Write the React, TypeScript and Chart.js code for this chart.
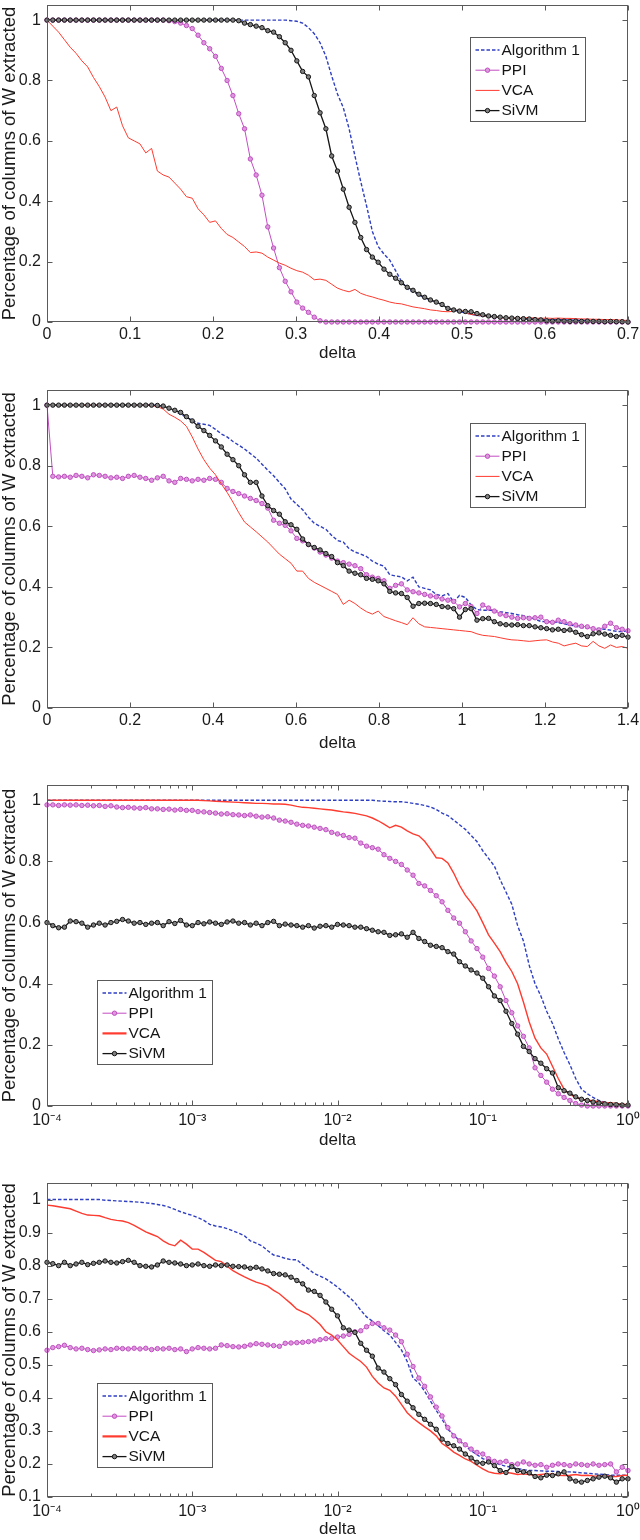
import { useEffect, useRef } from 'react';
import { Chart, registerables } from 'chart.js';

Chart.register(...registerables);

const FONT = '"Liberation Sans", Arial, Helvetica, sans-serif';
const BLUE = '#2f3fc2';
const MAGENTA = '#c24ec2';
const RED = '#ff3a2e';
const BLACK = '#151515';

// Sweep grids: 101 samples of delta per experiment (linear runs, then per-decade on the log runs).
const N = 101;
const DELTA_A = Array.from({ length: N }, (_, i) => (0.7 * i) / 100);
const DELTA_B = Array.from({ length: N }, (_, i) => (1.4 * i) / 100);
const DELTA_LOG = Array.from({ length: N }, (_, i) => Math.pow(10, -4 + (4 * i) / 100));

// Tick values / labels
const X_TICKS_A = [0, 0.1, 0.2, 0.3, 0.4, 0.5, 0.6, 0.7];
const X_LABELS_A = ['0', '0.1', '0.2', '0.3', '0.4', '0.5', '0.6', '0.7'];
const X_TICKS_B = [0, 0.2, 0.4, 0.6, 0.8, 1, 1.2, 1.4];
const X_LABELS_B = ['0', '0.2', '0.4', '0.6', '0.8', '1', '1.2', '1.4'];
const X_TICKS_LOG = [1e-4, 1e-3, 1e-2, 1e-1, 1];
const X_LABELS_LOG = ['10\u207B\u2074', '10\u207B\u00B3', '10\u207B\u00B2', '10\u207B\u00B9', '10\u2070'];
const Y_TICKS = [0, 0.2, 0.4, 0.6, 0.8, 1];
const Y_LABELS = ['0', '0.2', '0.4', '0.6', '0.8', '1'];
const Y_TICKS_4 = [0.1, 0.2, 0.3, 0.4, 0.5, 0.6, 0.7, 0.8, 0.9, 1];
const Y_LABELS_4 = ['0.1', '0.2', '0.3', '0.4', '0.5', '0.6', '0.7', '0.8', '0.9', '1'];

// ---- panel 1 (delta 0..0.7)
const P1_ALG = [
  1, 1, 1, 1, 1, 1, 1, 1, 1, 1,
  1, 1, 1, 1, 1, 1, 1, 1, 1, 1,
  1, 1, 1, 1, 1, 1, 1, 1, 1, 1,
  1, 1, 1, 1, 1, 1, 1, 1, 1, 1,
  1, 1, 0.998, 0.996, 0.99, 0.975, 0.955, 0.925, 0.88, 0.815,
  0.755, 0.71, 0.64, 0.55, 0.465, 0.385, 0.3, 0.25, 0.225, 0.205,
  0.17, 0.135, 0.11, 0.1, 0.09, 0.08, 0.073, 0.065, 0.055, 0.046,
  0.04, 0.035, 0.03, 0.026, 0.022, 0.02, 0.018, 0.016, 0.014, 0.013,
  0.012, 0.011, 0.01, 0.01, 0.01, 0.009, 0.008, 0.008, 0.008, 0.007,
  0.007, 0.006, 0.006, 0.006, 0.005, 0.005, 0.004, 0.004, 0.003, 0.002,
  0.001,
];
const P1_PPI = [
  1, 1, 1, 1, 1, 1, 1, 1, 1, 1,
  1, 1, 1, 1, 1, 1, 1, 1, 1, 1,
  1, 0.998, 0.995, 0.99, 0.982, 0.972, 0.95, 0.925, 0.905, 0.88,
  0.84, 0.8, 0.75, 0.69, 0.64, 0.54, 0.487, 0.42, 0.315, 0.245,
  0.18, 0.135, 0.1, 0.066, 0.046, 0.032, 0.016, 0.004, 0, 0,
  0, 0, 0, 0, 0, 0, 0, 0, 0, 0,
  0, 0, 0, 0, 0, 0, 0, 0, 0, 0,
  0, 0, 0, 0, 0, 0, 0, 0, 0, 0,
  0, 0, 0, 0, 0, 0, 0, 0, 0, 0,
  0, 0, 0, 0, 0, 0, 0, 0, 0, 0,
  0,
];
const P1_VCA = [
  1, 0.98, 0.96, 0.935, 0.91, 0.89, 0.865, 0.845, 0.81, 0.78,
  0.745, 0.7, 0.712, 0.65, 0.61, 0.6, 0.59, 0.56, 0.575, 0.5,
  0.487, 0.48, 0.46, 0.44, 0.415, 0.41, 0.375, 0.355, 0.33, 0.335,
  0.31, 0.29, 0.28, 0.265, 0.25, 0.23, 0.232, 0.228, 0.215, 0.205,
  0.195, 0.188, 0.178, 0.17, 0.165, 0.155, 0.14, 0.142, 0.138, 0.125,
  0.112, 0.105, 0.1, 0.108, 0.095, 0.088, 0.083, 0.077, 0.072, 0.066,
  0.062, 0.06, 0.055, 0.05, 0.047, 0.044, 0.04, 0.038, 0.035, 0.034,
  0.035, 0.042, 0.03, 0.025, 0.023, 0.02, 0.018, 0.016, 0.014, 0.013,
  0.013, 0.012, 0.013, 0.014, 0.013, 0.012, 0.013, 0.012, 0.013, 0.012,
  0.012, 0.011, 0.01, 0.01, 0.009, 0.009, 0.008, 0.008, 0.007, 0.006,
  0.005,
];
const P1_SIVM = [
  1, 1, 1, 1, 1, 1, 1, 1, 1, 1,
  1, 1, 1, 1, 1, 1, 1, 1, 1, 1,
  1, 1, 1, 1, 1, 1, 1, 1, 1, 1,
  1, 1, 1, 0.998, 0.99, 0.985, 0.98, 0.975, 0.965, 0.96,
  0.945, 0.925, 0.9, 0.865, 0.83, 0.812, 0.75, 0.693, 0.64, 0.55,
  0.5, 0.44, 0.38, 0.33, 0.28, 0.24, 0.215, 0.198, 0.175, 0.158,
  0.145, 0.13, 0.115, 0.105, 0.092, 0.082, 0.073, 0.066, 0.058, 0.045,
  0.04, 0.036, 0.035, 0.034, 0.028, 0.024, 0.02, 0.018, 0.016, 0.014,
  0.013, 0.012, 0.011, 0.01, 0.008, 0.007, 0.004, 0.003, 0.004, 0.003,
  0.002, 0.003, 0.002, 0.003, 0.002, 0.002, 0.001, 0.002, 0.001, 0.001,
  0,
];

// ---- panel 2 (delta 0..1.4)
const P2_ALG = [
  1, 1, 1, 1, 1, 1, 1, 1, 1, 1,
  1, 1, 1, 1, 1, 1, 1, 1, 1, 0.998,
  0.995, 0.99, 0.98, 0.97, 0.96, 0.95, 0.94, 0.937, 0.933, 0.92,
  0.905, 0.895, 0.88, 0.868, 0.855, 0.84, 0.825, 0.805, 0.785, 0.767,
  0.745, 0.724, 0.69, 0.672, 0.655, 0.63, 0.61, 0.6, 0.59, 0.57,
  0.553, 0.548, 0.526, 0.515, 0.508, 0.5, 0.485, 0.475, 0.468, 0.44,
  0.436, 0.433, 0.42, 0.432, 0.4, 0.395, 0.39, 0.375, 0.37, 0.378,
  0.35, 0.372, 0.365, 0.34, 0.325, 0.323, 0.323, 0.322, 0.318, 0.315,
  0.312, 0.308, 0.305, 0.3, 0.293, 0.286, 0.285, 0.285, 0.282, 0.278,
  0.274, 0.27, 0.266, 0.263, 0.263, 0.262, 0.26, 0.257, 0.253, 0.252,
  0.255,
];
const P2_PPI = [
  1, 0.765, 0.763, 0.765, 0.762, 0.768, 0.765, 0.76, 0.77, 0.768,
  0.765, 0.76, 0.762, 0.758, 0.765, 0.768, 0.762, 0.758, 0.752, 0.76,
  0.765, 0.75, 0.745, 0.758, 0.755, 0.75, 0.755, 0.752, 0.758, 0.755,
  0.745, 0.725, 0.715, 0.708, 0.7, 0.692, 0.685, 0.675, 0.66, 0.62,
  0.61, 0.603, 0.585, 0.56, 0.552, 0.54, 0.528, 0.515, 0.505, 0.495,
  0.485, 0.48, 0.475, 0.47, 0.46, 0.44, 0.432, 0.428, 0.42, 0.395,
  0.405, 0.41, 0.39, 0.384, 0.38, 0.375, 0.37, 0.367, 0.36, 0.356,
  0.352, 0.334, 0.345, 0.335, 0.312, 0.34, 0.33, 0.32, 0.31, 0.305,
  0.3, 0.296, 0.298, 0.296, 0.298, 0.3, 0.285, 0.283, 0.29, 0.285,
  0.278, 0.274, 0.27, 0.268, 0.262, 0.258, 0.27, 0.28, 0.265, 0.26,
  0.255,
];
const P2_VCA = [
  1, 1, 1, 1, 1, 1, 1, 1, 1, 1,
  1, 1, 1, 1, 1, 1, 1, 1, 1, 0.995,
  0.987, 0.97, 0.96, 0.948, 0.93, 0.895, 0.855, 0.82, 0.792, 0.77,
  0.74, 0.712, 0.68, 0.645, 0.614, 0.598, 0.582, 0.565, 0.548, 0.528,
  0.508, 0.493, 0.478, 0.452, 0.452, 0.428, 0.415, 0.405, 0.395, 0.385,
  0.375, 0.342, 0.356, 0.345, 0.33, 0.318, 0.31, 0.32, 0.302, 0.295,
  0.288, 0.282, 0.275, 0.298, 0.278, 0.268, 0.266, 0.264, 0.262, 0.26,
  0.258, 0.256, 0.254, 0.252, 0.245, 0.24, 0.238, 0.236, 0.232, 0.228,
  0.225, 0.224, 0.222, 0.22, 0.222, 0.224, 0.225, 0.218, 0.214, 0.205,
  0.21, 0.214, 0.205, 0.203, 0.22, 0.205, 0.197, 0.208, 0.2, 0.203,
  0.197,
];
const P2_SIVM = [
  1, 1, 1, 1, 1, 1, 1, 1, 1, 1,
  1, 1, 1, 1, 1, 1, 1, 1, 1, 0.999,
  0.997, 0.99, 0.983, 0.976, 0.962, 0.948, 0.93, 0.916, 0.9, 0.882,
  0.862, 0.838, 0.82, 0.8, 0.77, 0.745, 0.745, 0.7, 0.668, 0.652,
  0.64, 0.615, 0.605, 0.59, 0.558, 0.54, 0.53, 0.522, 0.51, 0.5,
  0.48, 0.47, 0.452, 0.445, 0.44, 0.428, 0.425, 0.42, 0.41, 0.385,
  0.38, 0.378, 0.365, 0.336, 0.345, 0.346, 0.345, 0.342, 0.335, 0.333,
  0.328, 0.3, 0.325, 0.328, 0.29, 0.295, 0.296, 0.285, 0.278, 0.275,
  0.274, 0.275, 0.272, 0.272, 0.268, 0.265, 0.262, 0.258, 0.26, 0.256,
  0.258, 0.25, 0.242, 0.236, 0.245, 0.248, 0.244, 0.24, 0.236, 0.24,
  0.234,
];

// ---- panel 3 (delta 1e-4..1, log)
const P3_ALG = [
  1, 1, 1, 1, 1, 1, 1, 1, 1, 1,
  1, 1, 1, 1, 1, 1, 1, 1, 1, 1,
  1, 1, 1, 1, 1, 1, 1, 1, 1, 1,
  1, 1, 1, 1, 1, 1, 1, 1, 1, 1,
  1, 1, 1, 1, 1, 1, 1, 1, 1, 1,
  1, 1, 1, 1, 1, 1, 1, 0.998, 0.997, 0.996,
  0.995, 0.995, 0.993, 0.99, 0.987, 0.983, 0.978, 0.97, 0.958, 0.95,
  0.935, 0.92, 0.905, 0.885, 0.865, 0.835, 0.81, 0.785, 0.74, 0.7,
  0.66, 0.59, 0.54, 0.46, 0.4, 0.36, 0.31, 0.27, 0.22, 0.175,
  0.135, 0.09, 0.055, 0.04, 0.028, 0.018, 0.012, 0.009, 0.006, 0.004,
  0.003,
];
const P3_PPI = [
  0.985, 0.985, 0.983, 0.985, 0.984, 0.985, 0.983, 0.984, 0.982, 0.983,
  0.98, 0.982, 0.978, 0.976, 0.977, 0.975, 0.974, 0.976, 0.972, 0.972,
  0.97, 0.971, 0.968, 0.97, 0.967, 0.967, 0.963, 0.962, 0.96, 0.958,
  0.955, 0.956, 0.953, 0.952, 0.95, 0.952, 0.948, 0.945, 0.946, 0.942,
  0.935, 0.932, 0.928, 0.922, 0.918, 0.916, 0.912, 0.908, 0.904, 0.895,
  0.89, 0.885, 0.878, 0.876, 0.86, 0.85, 0.845, 0.84, 0.822, 0.81,
  0.8, 0.79, 0.772, 0.755, 0.728, 0.72, 0.705, 0.688, 0.668, 0.64,
  0.615, 0.598, 0.57, 0.54, 0.515, 0.487, 0.45, 0.425, 0.39, 0.345,
  0.305, 0.262, 0.228, 0.19, 0.125, 0.1, 0.078, 0.055, 0.04, 0.028,
  0.018, 0.008, 0.003, 0, 0, 0, 0, 0, 0, 0,
  0,
];
const P3_VCA = [
  1, 1, 1, 1, 1, 1, 1, 1, 1, 1,
  1, 1, 1, 1, 1, 1, 1, 1, 1, 1,
  1, 1, 1, 1, 1, 1, 1, 0.999, 0.998, 0.997,
  0.996, 0.995, 0.994, 0.993, 0.992, 0.991, 0.99, 0.99, 0.989, 0.988,
  0.988, 0.987, 0.984, 0.98, 0.977, 0.976, 0.974, 0.972, 0.97, 0.968,
  0.965, 0.962, 0.96, 0.957, 0.953, 0.949, 0.942, 0.933, 0.922, 0.91,
  0.918, 0.912, 0.9, 0.89, 0.884, 0.866, 0.84, 0.812, 0.81, 0.795,
  0.762, 0.722, 0.69, 0.665, 0.638, 0.6, 0.56, 0.533, 0.505, 0.47,
  0.44, 0.4, 0.34, 0.275, 0.222, 0.19, 0.17, 0.13, 0.09, 0.055,
  0.038, 0.028, 0.022, 0.019, 0.017, 0.014, 0.012, 0.01, 0.008, 0.006,
  0.004,
];
const P3_SIVM = [
  0.6, 0.59, 0.583, 0.585, 0.605, 0.603, 0.598, 0.585, 0.592, 0.598,
  0.592, 0.6, 0.604, 0.61, 0.605, 0.598, 0.6, 0.594, 0.598, 0.6,
  0.59, 0.603, 0.597, 0.607, 0.592, 0.59, 0.6, 0.596, 0.602, 0.598,
  0.594, 0.602, 0.605, 0.598, 0.6, 0.592, 0.598, 0.59, 0.6, 0.604,
  0.59, 0.595, 0.592, 0.59, 0.585, 0.59, 0.582, 0.588, 0.59, 0.585,
  0.594, 0.592, 0.59, 0.585, 0.585, 0.58, 0.575, 0.57, 0.568, 0.558,
  0.56, 0.563, 0.552, 0.568, 0.548, 0.538, 0.526, 0.522, 0.518, 0.505,
  0.497, 0.472, 0.458, 0.445, 0.435, 0.418, 0.39, 0.36, 0.345, 0.31,
  0.27, 0.235, 0.195, 0.178, 0.155, 0.14, 0.122, 0.108, 0.06, 0.05,
  0.042, 0.03, 0.022, 0.018, 0.013, 0.01, 0.007, 0.005, 0.004, 0.003,
  0.003,
];

// ---- panel 4 (delta 1e-4..1, log)
const P4_ALG = [
  1, 1, 1, 1, 1, 1, 1, 1, 1, 1,
  0.998, 0.997, 0.996, 0.995, 0.994, 0.993, 0.992, 0.99, 0.988, 0.985,
  0.982, 0.977, 0.97, 0.963, 0.957, 0.952, 0.945, 0.937, 0.925, 0.92,
  0.917, 0.912, 0.905, 0.898, 0.89, 0.875, 0.868, 0.86, 0.845, 0.832,
  0.828, 0.822, 0.818, 0.818, 0.803, 0.79, 0.776, 0.768, 0.76, 0.748,
  0.735, 0.72, 0.705, 0.688, 0.665, 0.645, 0.632, 0.618, 0.603, 0.59,
  0.568, 0.545, 0.51, 0.46, 0.445, 0.42, 0.39, 0.362, 0.335, 0.305,
  0.288, 0.27, 0.255, 0.24, 0.228, 0.216, 0.21, 0.205, 0.198, 0.193,
  0.19, 0.186, 0.183, 0.18, 0.18, 0.179, 0.178, 0.178, 0.177, 0.176,
  0.176, 0.175, 0.173, 0.172, 0.17, 0.169, 0.168, 0.166, 0.166, 0.166,
  0.166,
];
const P4_PPI = [
  0.544, 0.552, 0.555, 0.559, 0.552, 0.548, 0.55, 0.546, 0.543, 0.545,
  0.548, 0.546, 0.55, 0.549, 0.548, 0.55, 0.548, 0.55, 0.546, 0.549,
  0.548, 0.55, 0.546, 0.548, 0.54, 0.548, 0.552, 0.55, 0.548, 0.55,
  0.56, 0.558, 0.555, 0.554, 0.556, 0.56, 0.564, 0.562, 0.56, 0.558,
  0.556, 0.565, 0.566, 0.567, 0.568, 0.57, 0.572, 0.576, 0.579, 0.58,
  0.584, 0.587, 0.592, 0.6, 0.603, 0.615, 0.625, 0.625, 0.612, 0.605,
  0.59, 0.57, 0.532, 0.495, 0.46, 0.435, 0.403, 0.372, 0.345, 0.31,
  0.285, 0.27, 0.258, 0.245, 0.235, 0.23, 0.216, 0.208, 0.205, 0.208,
  0.198, 0.2, 0.206, 0.2, 0.196, 0.198, 0.19, 0.196, 0.2, 0.198,
  0.195, 0.2, 0.198, 0.196, 0.2, 0.196, 0.198, 0.2, 0.176, 0.19,
  0.18,
];
const P4_VCA = [
  0.983, 0.981, 0.978, 0.975, 0.972, 0.965, 0.958, 0.953, 0.952, 0.951,
  0.945, 0.94, 0.937, 0.935, 0.93, 0.922, 0.912, 0.902, 0.895, 0.888,
  0.875, 0.865, 0.86, 0.877, 0.865, 0.85, 0.85, 0.84, 0.828, 0.816,
  0.812, 0.798, 0.785, 0.775, 0.766, 0.758, 0.75, 0.745, 0.738, 0.725,
  0.715, 0.7, 0.685, 0.668, 0.66, 0.652, 0.638, 0.622, 0.6, 0.59,
  0.575, 0.555, 0.535, 0.522, 0.51, 0.493, 0.465, 0.445, 0.43, 0.423,
  0.405, 0.38, 0.355, 0.338, 0.325, 0.312, 0.3, 0.285, 0.262, 0.25,
  0.236, 0.226, 0.215, 0.208, 0.196, 0.185, 0.176, 0.172, 0.17, 0.175,
  0.172, 0.168, 0.17, 0.168, 0.166, 0.168, 0.17, 0.169, 0.166, 0.165,
  0.166, 0.168, 0.165, 0.166, 0.164, 0.163, 0.165, 0.162, 0.162, 0.165,
  0.166,
];
const P4_SIVM = [
  0.81, 0.806, 0.8, 0.81, 0.8, 0.805, 0.81, 0.803, 0.807, 0.81,
  0.814, 0.81, 0.808, 0.812, 0.816, 0.81, 0.8, 0.798, 0.796, 0.802,
  0.814, 0.81, 0.808, 0.805, 0.8, 0.802, 0.805, 0.8, 0.798, 0.802,
  0.8, 0.802, 0.798, 0.797, 0.796, 0.792, 0.795, 0.79, 0.784, 0.776,
  0.774, 0.772, 0.765, 0.755, 0.745, 0.726, 0.722, 0.71, 0.69, 0.668,
  0.648, 0.612, 0.605, 0.598, 0.565, 0.544, 0.526, 0.49, 0.478, 0.458,
  0.44, 0.41, 0.39, 0.37, 0.35, 0.335, 0.32, 0.305, 0.275, 0.262,
  0.255, 0.245, 0.23, 0.218, 0.205, 0.202, 0.206, 0.195, 0.18, 0.174,
  0.192, 0.18, 0.176, 0.173, 0.162, 0.158, 0.166, 0.165, 0.17, 0.176,
  0.155, 0.148, 0.145, 0.15, 0.155, 0.16, 0.163, 0.158, 0.145, 0.155,
  0.155,
];

interface Panel {
  top: number;
  height: number;
  areaTop: number;
  axisH: number;
  tickPad: number;
  log: boolean;
  xMin: number;
  xMax: number;
  xTicks: number[];
  xLabels: string[];
  yMin: number;
  yTicks: number[];
  yLabels: string[];
  delta: number[];
  alg: number[];
  ppi: number[];
  vca: number[];
  sivm: number[];
  vcaWidth: number;
  legend: { x: number; y: number };
}

const PANELS: Panel[] = [
  {
    top: 0, height: 364, areaTop: 2, axisH: 42, tickPad: 3, log: false,
    xMin: 0, xMax: 0.7, xTicks: X_TICKS_A, xLabels: X_LABELS_A,
    yMin: 0, yTicks: Y_TICKS, yLabels: Y_LABELS,
    delta: DELTA_A, alg: P1_ALG, ppi: P1_PPI, vca: P1_VCA, sivm: P1_SIVM,
    vcaWidth: 1, legend: { x: 423, y: 32 },
  },
  {
    top: 380, height: 374, areaTop: 10, axisH: 46, tickPad: 3, log: false,
    xMin: 0, xMax: 1.4, xTicks: X_TICKS_B, xLabels: X_LABELS_B,
    yMin: 0, yTicks: Y_TICKS, yLabels: Y_LABELS,
    delta: DELTA_B, alg: P2_ALG, ppi: P2_PPI, vca: P2_VCA, sivm: P2_SIVM,
    vcaWidth: 1, legend: { x: 423, y: 33 },
  },
  {
    top: 770, height: 381, areaTop: 15, axisH: 45, tickPad: 5, log: true,
    xMin: 1e-4, xMax: 1, xTicks: X_TICKS_LOG, xLabels: X_LABELS_LOG,
    yMin: 0, yTicks: Y_TICKS, yLabels: Y_LABELS,
    delta: DELTA_LOG, alg: P3_ALG, ppi: P3_PPI, vca: P3_VCA, sivm: P3_SIVM,
    vcaWidth: 1.4, legend: { x: 50, y: 195 },
  },
  {
    top: 1160, height: 380, areaTop: 23, axisH: 43, tickPad: 5, log: true,
    xMin: 1e-4, xMax: 1, xTicks: X_TICKS_LOG, xLabels: X_LABELS_LOG,
    yMin: 0.1, yTicks: Y_TICKS_4, yLabels: Y_LABELS_4,
    delta: DELTA_LOG, alg: P4_ALG, ppi: P4_PPI, vca: P4_VCA, sivm: P4_SIVM,
    vcaWidth: 1.4, legend: { x: 50, y: 200 },
  },
];

// MATLAB-style box: frame, inward ticks on all four sides, boxed legend inside the axes.
const matlabAxes = {
  id: 'matlabAxes',
  afterDatasetsDraw(chart: any, _args: any, opts: any) {
    const { ctx, chartArea: a, scales } = chart;
    const L = Math.round(a.left) + 0.5;
    const R = Math.round(a.right) - 0.5;
    const T = Math.round(a.top) + 0.5;
    const B = Math.round(a.bottom) - 0.5;
    const line = (x1: number, y1: number, x2: number, y2: number) => {
      ctx.beginPath();
      ctx.moveTo(x1, y1);
      ctx.lineTo(x2, y2);
      ctx.stroke();
    };
    ctx.save();
    ctx.strokeStyle = '#5a5a5a';
    ctx.lineWidth = 1;
    ctx.setLineDash([]);
    ctx.strokeRect(L, T, R - L, B - T);

    const xs = scales.x;
    const ys = scales.y;
    xs.ticks.forEach((t: any) => {
      const px = Math.round(xs.getPixelForValue(t.value)) + 0.5;
      line(px, B, px, B - 5);
      line(px, T, px, T + 5);
    });
    if (opts.log) {
      for (let k = -4; k < 0; k++) {
        for (let m = 2; m <= 9; m++) {
          const px = Math.round(xs.getPixelForValue(m * Math.pow(10, k))) + 0.5;
          line(px, B, px, B - 3);
          line(px, T, px, T + 3);
        }
      }
    }
    ys.ticks.forEach((t: any) => {
      const py = Math.round(ys.getPixelForValue(t.value)) + 0.5;
      line(L, py, L + 5, py);
      line(R, py, R - 5, py);
    });

    // legend
    const bx = Math.round(a.left + opts.legend.x) + 0.5;
    const by = Math.round(a.top + opts.legend.y) + 0.5;
    const bw = 115;
    const bh = 84;
    ctx.fillStyle = '#ffffff';
    ctx.fillRect(bx, by, bw, bh);
    ctx.strokeStyle = '#5a5a5a';
    ctx.strokeRect(bx, by, bw, bh);
    ctx.font = `15.5px ${FONT}`;
    ctx.textBaseline = 'middle';
    ctx.textAlign = 'left';
    chart.data.datasets.forEach((ds: any, i: number) => {
      const ry = by + 12.5 + i * 20.2;
      ctx.strokeStyle = ds.borderColor;
      ctx.lineWidth = ds.legendWidth ?? ds.borderWidth;
      ctx.setLineDash(ds.borderDash ?? []);
      line(bx + 5, ry, bx + 29, ry);
      ctx.setLineDash([]);
      if (ds.pointRadius > 0) {
        ctx.beginPath();
        ctx.arc(bx + 17, ry, ds.pointRadius, 0, Math.PI * 2);
        ctx.fillStyle = ds.pointBackgroundColor;
        ctx.fill();
        ctx.lineWidth = 1;
        ctx.strokeStyle = ds.pointBorderColor;
        ctx.stroke();
      }
      ctx.fillStyle = '#151515';
      ctx.fillText(ds.label, bx + 31, ry + 0.5);
    });
    ctx.restore();
  },
};

function PanelChart({ p }: { p: Panel }) {
  const canvasRef = useRef<HTMLCanvasElement>(null);

  useEffect(() => {
    if (!canvasRef.current) return;
    const pts = (ys: number[]) => p.delta.map((x, i) => ({ x, y: ys[i] }));
    const chart = new Chart(canvasRef.current, {
      type: 'line',
      data: {
        datasets: [
          {
            label: 'Algorithm 1', data: pts(p.alg), borderColor: BLUE, borderWidth: 1.4,
            borderDash: [3.5, 2], pointRadius: 0, order: 3,
          },
          {
            label: 'PPI', data: pts(p.ppi), borderColor: MAGENTA, borderWidth: 1,
            pointRadius: 2.2, pointBorderWidth: 1, pointBorderColor: MAGENTA,
            pointBackgroundColor: '#dc98dc', order: 2,
          },
          {
            label: 'VCA', data: pts(p.vca), borderColor: RED, borderWidth: p.vcaWidth,
            legendWidth: p.log ? 2.2 : 1, pointRadius: 0, order: 1,
          } as any,
          {
            label: 'SiVM', data: pts(p.sivm), borderColor: BLACK, borderWidth: 1.3,
            pointRadius: 2.2, pointBorderWidth: 1, pointBorderColor: BLACK,
            pointBackgroundColor: '#808080', order: 0,
          },
        ],
      },
      options: {
        animation: false,
        responsive: true,
        maintainAspectRatio: false,
        clip: false,
        elements: { line: { tension: 0, fill: false } },
        layout: { padding: { left: 0, top: p.areaTop, right: 12, bottom: 0 } },
        plugins: {
          legend: { display: false },
          tooltip: { enabled: false },
          matlabAxes: { log: p.log, legend: p.legend },
        } as any,
        scales: {
          x: {
            type: p.log ? 'logarithmic' : 'linear',
            min: p.xMin,
            max: p.xMax,
            grid: { display: false, drawTicks: false },
            border: { display: false },
            afterBuildTicks: (s: any) => { s.ticks = p.xTicks.map((value) => ({ value })); },
            afterFit: (s: any) => { s.height = p.axisH; s.paddingLeft = 0; s.paddingRight = 0; },
            ticks: {
              autoSkip: false,
              maxRotation: 0,
              padding: p.tickPad,
              color: '#1a1a1a',
              font: { family: FONT, size: 16 },
              callback: (_v: any, i: number) => p.xLabels[i],
            },
            title: {
              display: true,
              text: 'delta',
              color: '#1a1a1a',
              font: { family: FONT, size: 17, lineHeight: 1.2 },
              padding: 0,
            },
          } as any,
          y: {
            type: 'linear',
            min: p.yMin,
            max: 1.05,
            grid: { display: false, drawTicks: false },
            border: { display: false },
            afterBuildTicks: (s: any) => { s.ticks = p.yTicks.map((value) => ({ value })); },
            afterFit: (s: any) => { s.width = 47; s.paddingTop = 0; s.paddingBottom = 0; },
            ticks: {
              padding: 6,
              color: '#1a1a1a',
              font: { family: FONT, size: 16 },
              callback: (_v: any, i: number) => p.yLabels[i],
            },
            title: {
              display: true,
              text: 'Percentage of columns of W extracted',
              color: '#1a1a1a',
              font: { family: FONT, size: 18.5, lineHeight: 1.1 },
              padding: 0,
            },
          },
        },
      },
      plugins: [matlabAxes],
    });
    return () => { chart.destroy(); };
  }, [p]);

  return (
    <div style={{ position: 'absolute', left: 0, top: p.top, width: 640, height: p.height }}>
      <canvas ref={canvasRef} />
    </div>
  );
}

export default function App() {
  return (
    <div style={{ position: 'relative', width: 640, height: 1540, background: '#fff' }}>
      <style>{'body{margin:0;background:#fff}'}</style>
      {PANELS.map((p, i) => (
        <PanelChart key={i} p={p} />
      ))}
    </div>
  );
}
